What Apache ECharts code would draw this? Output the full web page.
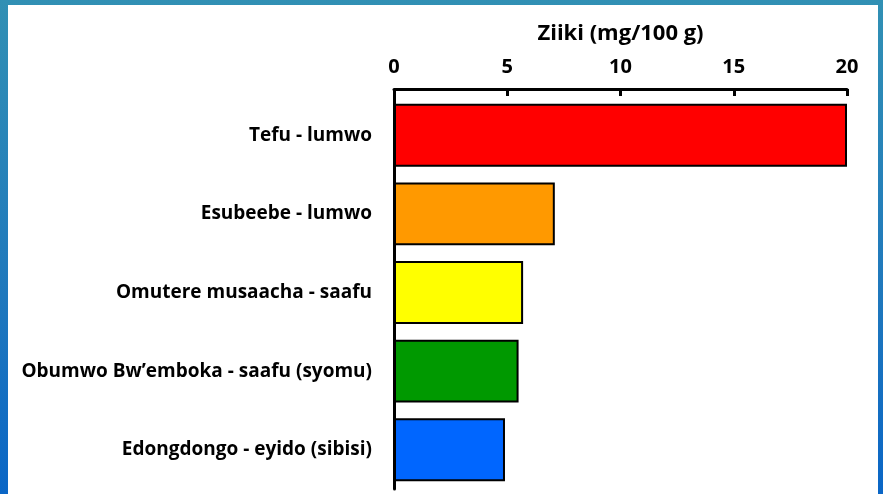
<!DOCTYPE html>
<html>
<head>
<meta charset="utf-8">
<script src="https://cdn.jsdelivr.net/npm/echarts@6/dist/echarts.min.js"></script>
<style>
    html, body {
        margin: 0;
        padding: 0;
        width: 883px;
        height: 494px;
        overflow: hidden;
    }
    body {
        background: linear-gradient(to bottom, #3190b4 0%, #1f78bd 60%, #0a66c6 100%);
        position: relative;
    }
    #zinc_chart {
        position: absolute;
        left: 8px;
        top: 5px;
        width: 870px;
        height: 489px;
        background: #fff;
    }
</style>
</head>
<body>
<div id="zinc_chart"></div>
<script>
// Chart data
var categories = ['Tefu - lumwo', 'Esubeebe - lumwo', 'Omutere musaacha - saafu', 'Obumwo Bw\u2019emboka - saafu (syomu)', 'Edongdongo - eyido (sibisi)'];
var zincValues = [20, 7.1, 5.7, 5.5, 4.9];
var barColors = ['#ff0000', '#ff9900', '#ffff00', '#009900', '#0066ff'];
var axisTitle = 'Ziiki (mg/100 g)';

document.addEventListener('DOMContentLoaded', function() {
    var chart_element = document.getElementById('zinc_chart');
    var chart = echarts.init(chart_element);

    var fontFamily = '"Open Sans", Lato, sans-serif';

    chart.setOption({
        animation: false,
        textStyle: {
            fontFamily: fontFamily
        },

        // Plot area
        grid: {
            left: 386,
            right: 31,
            top: 91,
            bottom: 5,
            containLabel: false
        },

        // Horizontal axis (on top)
        xAxis: {
            type: 'value',
            position: 'top',
            offset: 7,
            min: 0,
            max: 20,
            interval: 5,
            name: axisTitle,
            nameLocation: 'middle',
            nameGap: 44,
            nameTextStyle: {
                color: '#000',
                fontSize: 22,
                fontWeight: 'bold',
                fontFamily: fontFamily
            },
            axisLine: {
                show: true,
                lineStyle: { color: '#000', width: 3 }
            },
            axisTick: {
                show: true,
                inside: true,
                length: 7,
                lineStyle: { color: '#000', width: 3 }
            },
            axisLabel: {
                color: '#000',
                fontSize: 20,
                fontWeight: 'bold',
                margin: 12
            },
            splitLine: { show: false }
        },

        // Vertical axis
        yAxis: {
            type: 'category',
            inverse: true,
            data: categories,
            axisLine: {
                show: true,
                lineStyle: { color: '#000', width: 3 }
            },
            axisTick: { show: false },
            axisLabel: {
                color: '#000',
                fontSize: 19,
                fontWeight: 'bold',
                margin: 22
            }
        },

        series: [{
            type: 'bar',
            barCategoryGap: '20%',
            data: zincValues.map(function(v, i) {
                return {
                    value: v,
                    itemStyle: {
                        color: barColors[i],
                        borderColor: '#000',
                        borderWidth: 2
                    }
                };
            })
        }]
    });
});
</script>
</body>
</html>
